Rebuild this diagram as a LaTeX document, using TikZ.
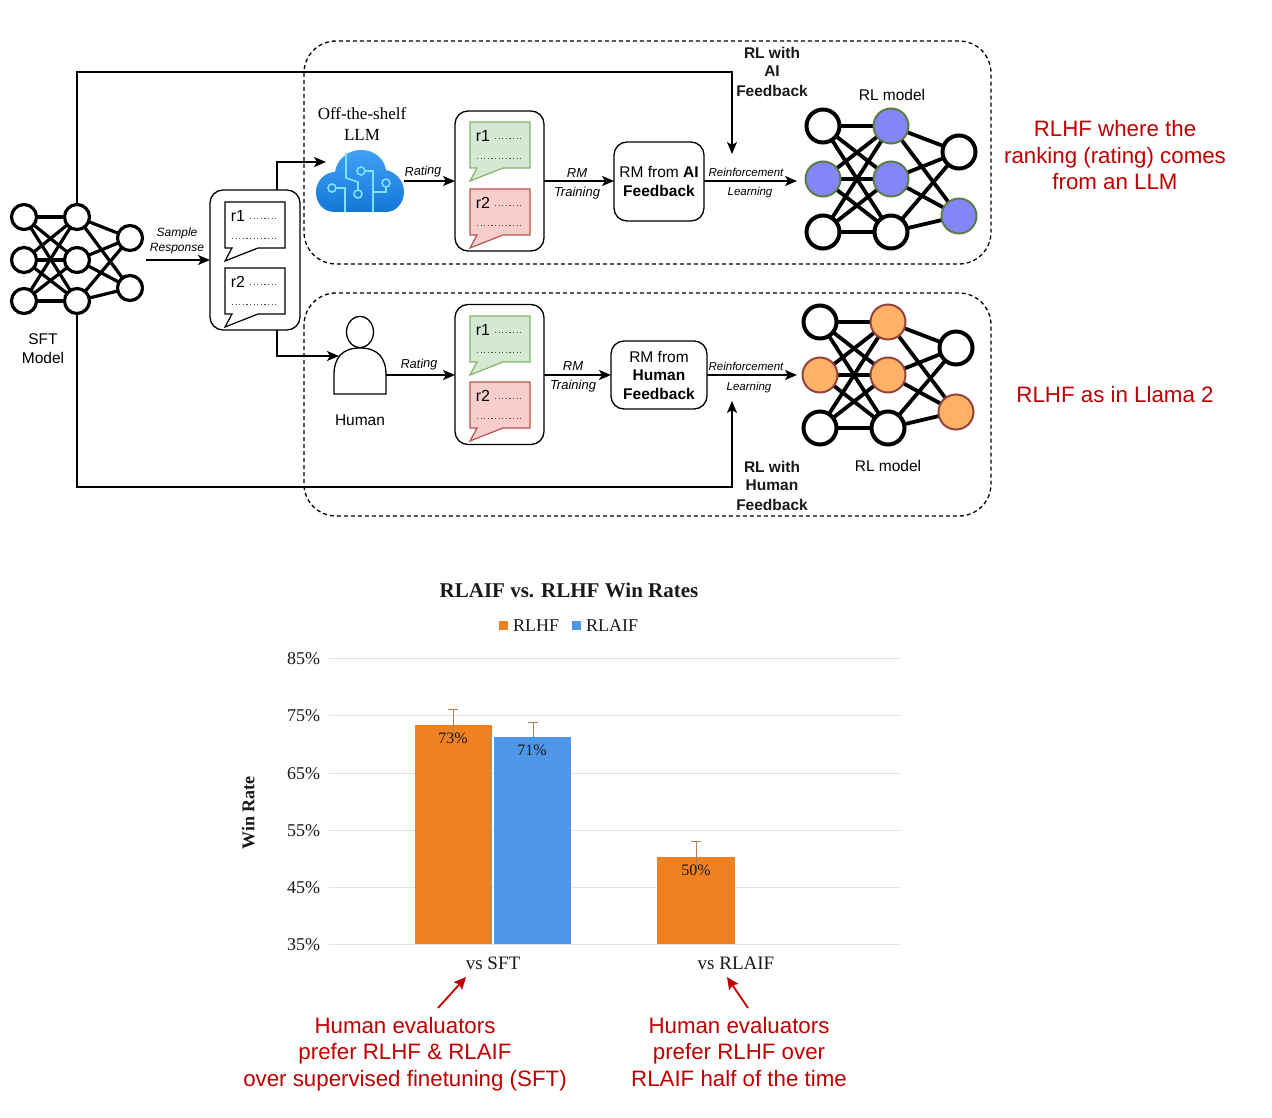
\documentclass[tikz,border=0pt]{standalone}
\usepackage{fontspec}
\setmainfont{Liberation Sans}
\newfontfamily\serifface{Liberation Serif}
\usetikzlibrary{arrows.meta,calc}
\pgfdeclarelayer{bg}\pgfdeclarelayer{edges}
\pgfsetlayers{bg,edges,main}
\definecolor{redtxt}{HTML}{C00000}
\definecolor{gfill}{HTML}{D5E8D4}\definecolor{gline}{HTML}{82B366}
\definecolor{rfill}{HTML}{F8CECC}\definecolor{rline}{HTML}{B85450}
\definecolor{bnode}{HTML}{8585FA}\definecolor{onode}{HTML}{FFB266}
\definecolor{barO}{HTML}{EF8122}\definecolor{barB}{HTML}{4F97E8}
\definecolor{gridc}{HTML}{E2E2E2}
\definecolor{cloudT}{HTML}{3FA0F5}\definecolor{cloudB}{HTML}{1578D8}
\definecolor{circ}{HTML}{7FE3FF}
\newcommand{\fs}[1]{\fontsize{#1}{#1}\selectfont}
\newcommand{\netedges}[2]{%
  \begin{pgfonlayer}{edges}%
  \foreach \p in {1,2,3}{\foreach \q in {1,2,3}{\draw[netline,line width=#2] (#1a\p.center) -- (#1b\q.center);}}%
  \foreach \q in {1,2,3}{\foreach \s in {1,2}{\draw[netline,line width=#2] (#1b\q.center) -- (#1c\s.center);}}%
  \end{pgfonlayer}}
% name, x, y(top), fill, stroke, label
\newcommand{\bubble}[6]{%
  \draw[line width=1.2pt,draw=#5,fill=#4,line join=miter] (#2,#3) coordinate (#1) -- ++(60,0) -- ++(0,46) -- ++(-27,0) -- ++(-33,13) -- ++(7,-13) -- ++(-7,0) -- cycle;
  \node[txt,font=\fs{16}] at ($(#1)+(13,14)$) {#6};
  \draw[dots] ($(#1)+(25,16)$) -- ++(27,0);
  \draw[dots] ($(#1)+(7,36)$) -- ++(45,0);}
\tikzset{
  x=1pt,y=-1pt,
  txt/.style={inner sep=0pt,outer sep=0pt,align=center,text=black,yshift=-1.8pt,execute at begin node=\vphantom{Ag(}},
  lab/.style={txt,font=\fs{12}\itshape},
  main/.style={txt,font=\fs{15.5}},
  strong/.style={txt,font=\fs{15.5}\bfseries,text=black!90},
  redt/.style={txt,font=\fs{22.3},text=redtxt},
  chartt/.style={txt,font=\serifface\fs{18},text=black!90},
  arr/.style={line width=1.5pt,-{Stealth[length=12pt,width=10pt,inset=3pt]}},
  redarr/.style={line width=1.8pt,draw=redtxt,-{Stealth[length=12pt,width=11pt,inset=2pt]}},
  netline/.style={draw=black},
  sn/.style={circle,draw=black,line width=3.2pt,fill=white,minimum size=25pt,inner sep=0pt,outer sep=0pt},
  ln/.style={circle,draw=black,line width=4pt,fill=white,minimum size=33pt,inner sep=0pt,outer sep=0pt},
  bn/.style={circle,draw=gline!70!black,line width=2pt,fill=bnode,minimum size=35pt,inner sep=0pt,outer sep=0pt},
  on/.style={circle,draw=rline!80!black,line width=2pt,fill=onode,minimum size=35pt,inner sep=0pt,outer sep=0pt},
  dbox/.style={draw=black,line width=1.3pt,dash pattern=on 4pt off 3pt,rounded corners=32pt},
  rbox/.style={draw=black,line width=1.3pt,fill=white,rounded corners=13pt,inner sep=0pt,outer sep=0pt},
  dots/.style={line width=.9pt,draw=black!70,dash pattern=on 1.2pt off 2.4pt},
  grid/.style={line width=1pt,draw=gridc},
  errb/.style={line width=.9pt,draw=brown!70!gray},
}
\begin{document}
\begin{tikzpicture}
\useasboundingbox (0,0) rectangle (1272,1118);
\begin{pgfonlayer}{bg}
\fill[white] (0,0) rectangle (1272,1118);
\end{pgfonlayer}
% dashed regions
\draw[dbox] (304,41) rectangle (991,264);
\draw[dbox] (304,293) rectangle (991,516);
% SFT network
\foreach \n/\y in {1/217,2/260,3/301}{
  \node[sn] (sa\n) at (24,\y) {};
  \node[sn] (sb\n) at (77,\y) {};}
\node[sn] (sc1) at (130,238) {};
\node[sn] (sc2) at (130,288) {};
\netedges{s}{3.2pt}
% top RL network
\node[ln] (ta1) at (823,126) {};
\node[bn] (ta2) at (823,179) {};
\node[ln] (ta3) at (823,232) {};
\node[bn] (tb1) at (891,126) {};
\node[bn] (tb2) at (891,179) {};
\node[ln] (tb3) at (891,232) {};
\node[ln] (tc1) at (959,152) {};
\node[bn] (tc2) at (959,216) {};
\netedges{t}{3.8pt}
% bottom RL network
\node[ln] (ba1) at (820,322) {};
\node[on] (ba2) at (820,375) {};
\node[ln] (ba3) at (820,428) {};
\node[on] (bb1) at (888,322) {};
\node[on] (bb2) at (888,375) {};
\node[ln] (bb3) at (888,428) {};
\node[ln] (bc1) at (956,348) {};
\node[on] (bc2) at (956,412) {};
\netedges{b}{3.8pt}
% SFT label
\node[main] at (43,339) {SFT};
\node[main] at (43,358) {Model};
% long feedback lines
\coordinate (ttarget) at (732,154);
\coordinate (btarget) at (732,401);
\draw[arr] (sb1.north) -- (77,72) -- (732,72) -- (ttarget);
\draw[arr] (sb3.south) -- (77,487) -- (732,487) -- (btarget);
% sample responses box
\node[rbox,minimum width=90pt,minimum height=140pt] (resp) at (255,260) {};
\coordinate (sfthead) at (146,260);
\draw[arr] (sfthead) -- (resp.west);
\node[lab] at (177,232) {Sample};
\node[lab] at (177,247) {Response};
\bubble{ra}{225}{202}{white}{black}{r1}
\bubble{rb}{225}{268}{white}{black}{r2}
% cloud
\coordinate (cloudin) at (326,162);
\coordinate (cloudout) at (404,181);
\shade[top color=cloudT,bottom color=cloudB]
 (335,212) .. controls (323,212) and (316,203) .. (316,192)
 .. controls (316,181) and (325,172) .. (335,172)
 .. controls (337,159) and (348,150) .. (361,150)
 .. controls (374,150) and (384,158) .. (386,170)
 .. controls (396,172) and (404,181) .. (404,192)
 .. controls (404,203) and (396,212) .. (386,212) -- cycle;
\begin{scope}[line width=1.6pt]
\draw[circ] (346,153) -- (346,178) -- (358,182) -- (358,190);
\draw[circ] (358,194) circle[radius=4pt];
\draw[circ] (361,171) circle[radius=4pt];
\draw[circ] (365,171) -- (373,171) -- (373,212);
\draw[circ] (386,183) circle[radius=4pt];
\draw[circ] (386,187) -- (386,192) -- (373,192);
\draw[circ] (332,188) circle[radius=4pt];
\draw[circ] (336,188) -- (345,188) -- (345,212);
\end{scope}
\draw[arr] (277,190) -- (277,162) -- (cloudin);
\node[txt,font=\serifface\fs{17}] at (362,114) {Off-the-shelf};
\node[txt,font=\serifface\fs{17}] at (362,135) {LLM};
% human
\coordinate (humanin) at (339,356);
\coordinate (humanout) at (386,375);
\draw[line width=1.3pt,fill=white] (334,394) -- (334,375) .. controls (334,358) and (342,348) .. (360,348) .. controls (378,348) and (386,358) .. (386,375) -- (386,394) -- cycle;
\node[circle,draw=black,line width=1.3pt,fill=white,minimum width=27pt,inner sep=0pt,yscale=1.15] (head) at (360,332) {};
\draw[arr] (277,330) -- (277,356) -- (humanin);
\node[main] at (360,420) {Human};
% rating boxes
\node[rbox,minimum width=89pt,minimum height=140pt] (rate1) at (499.5,181) {};
\node[rbox,minimum width=89pt,minimum height=140pt] (rate2) at (499.5,374.5) {};
\bubble{ga}{470}{122}{gfill}{gline}{r1}
\bubble{gb}{470}{189}{rfill}{rline}{r2}
\bubble{ha}{470}{316}{gfill}{gline}{r1}
\bubble{hb}{470}{382}{rfill}{rline}{r2}
\draw[arr] (cloudout) -- (rate1.west);
\draw[arr] (humanout) -- (rate2.west |- humanout);
\node[lab,font=\fs{12.7}\itshape,rotate=3] at (423,170) {Rating};
\node[lab,font=\fs{12.7}\itshape,rotate=2] at (419,363) {Rating};
% RM boxes
\node[rbox,minimum width=90pt,minimum height=79pt,align=center,font=\fs{15.5}] (rm1) at (659,181.5) {RM from \textbf{AI}\\[4pt]\textbf{Feedback}};
\node[rbox,minimum width=96pt,minimum height=68pt,align=center,font=\fs{15.5}] (rm2) at (659,375) {RM from\\[3pt]\textbf{Human}\\[3pt]\textbf{Feedback}};
\draw[arr] (rate1.east) -- (rm1.west |- rate1.east);
\draw[arr] (rate2.east |- rm2.west) -- (rm2.west);
\node[lab,font=\fs{13}\itshape] at (577,172) {RM};
\node[lab,font=\fs{13}\itshape] at (577,191) {Training};
\node[lab,font=\fs{13}\itshape] at (573,365) {RM};
\node[lab,font=\fs{13}\itshape] at (573,384) {Training};
\coordinate (tgoal) at (797,181);
\coordinate (bgoal) at (797,375);
\draw[arr] (rm1.east |- tgoal) -- (tgoal);
\draw[arr] (rm2.east) -- (bgoal);
\node[lab,font=\fs{11.5}\itshape] at (746,172) {Reinforcement};
\node[lab,font=\fs{11.5}\itshape] at (750,191) {Learning};
\node[lab,font=\fs{11.5}\itshape] at (746,366) {Reinforcement};
\node[lab,font=\fs{11.5}\itshape] at (749,386) {Learning};
\node[strong] at (772,53) {RL with};
\node[strong] at (772,71) {AI};
\node[strong] at (772,91) {Feedback};
\node[strong] at (772,467) {RL with};
\node[strong] at (772,485) {Human};
\node[strong] at (772,505) {Feedback};
\node[main] at (892,95) {RL model};
\node[main] at (888,466) {RL model};
% red captions
\node[redt] at (1115,129) {RLHF where the};
\node[redt] at (1115,156) {ranking (rating) comes};
\node[redt] at (1115,182) {from an LLM};
\node[redt] at (1115,395) {RLHF as in Llama 2};
% chart
\node[chartt,font=\serifface\bfseries\fs{21}] at (569,591) {RLAIF vs. RLHF Win Rates};
\fill[barO] (499,621) rectangle (508,630);
\fill[barB] (572,621) rectangle (581,630);
\node[chartt,anchor=west] at (513,625) {RLHF};
\node[chartt,anchor=west] at (586,625) {RLAIF};
\foreach \y/\t in {658/85,715/75,773/65,830/55,887/45,944/35}{
  \draw[grid] (329,\y) -- (900,\y);
  \node[chartt,anchor=east] at (320,\y) {\t\%};}
\fill[barO] (415,944) rectangle (492,725);
\fill[barB] (494,944) rectangle (571,737);
\fill[barO] (657,944) rectangle (735,857);
\draw[errb] (453,738) -- (453,709) (448,709) -- (458,709);
\draw[errb] (533,750) -- (533,722) (528,722) -- (538,722);
\draw[errb] (696,868) -- (696,841) (691,841) -- (701,841);
\node[chartt,font=\serifface\fs{16}] at (453,738) {73\%};
\node[chartt,font=\serifface\fs{16}] at (532,750) {71\%};
\node[chartt,font=\serifface\fs{16}] at (696,870) {50\%};
\node[chartt,font=\serifface\bfseries\fs{18},rotate=90] at (250,811) {Win Rate};
\node[chartt,font=\serifface\fs{19}] (xa) at (493,963) {vs SFT};
\node[chartt,font=\serifface\fs{19}] (xb) at (736,963) {vs RLAIF};
\coordinate (rafrom) at (438,1008);
\coordinate (rbfrom) at (748,1008);
\draw[redarr] (rafrom) -- (466,977);
\draw[redarr] (rbfrom) -- (727,977);
\node[redt] at (405,1026) {Human evaluators};
\node[redt] at (405,1052) {prefer RLHF \& RLAIF};
\node[redt] at (405,1079) {over supervised finetuning (SFT)};
\node[redt] at (739,1026) {Human evaluators};
\node[redt] at (739,1052) {prefer RLHF over};
\node[redt] at (739,1079) {RLAIF half of the time};
\end{tikzpicture}
\end{document}
